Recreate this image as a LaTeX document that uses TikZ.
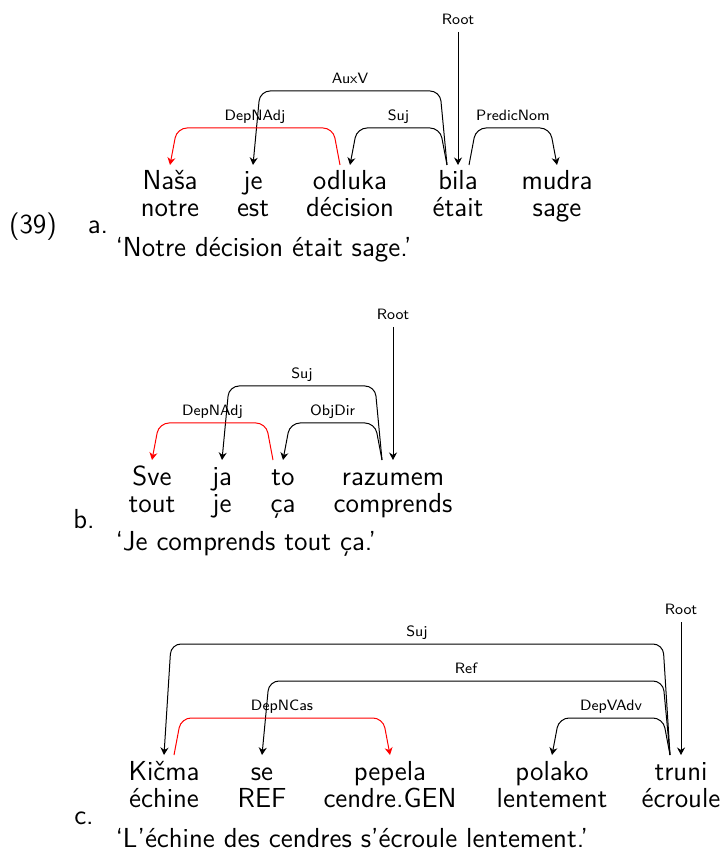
\documentclass[tikz,border=0pt]{standalone}
\usetikzlibrary{calc,positioning,arrows.meta}
\begin{document}
\begin{tikzpicture}[x=0.4pt,y=-0.4pt,
  word/.style={font=\sffamily\fontsize{11}{13}\selectfont,anchor=base,inner sep=0pt},
  deplabel/.style={font=\sffamily\fontsize{6}{7}\selectfont,text=black,inner sep=1.4pt,text height=4.5pt,text depth=1.3pt},
  dep/.style={-{Stealth[length=3pt,width=3.2pt]},rounded corners=4pt}]
\useasboundingbox (0,0) rectangle (723,850);
% (39) a.
\node[word] (exnum) at (33,234) {(39)};
\node[word] (la) at (98,234) {a.};
\node[word] (wa1) at (170,190) {Naša};
\node[word] (wa2) at (253,190) {je};
\node[word] (wa3) at (350,190) {odluka};
\node[word] (wa4) at (458,190) {bila};
\node[word] (wa5) at (557,190) {mudra};
\node[word] (ga1) at (170,217) {notre};
\node[word] (ga2) at (253,217) {est};
\node[word] (ga3) at (350,217) {décision};
\node[word] (ga4) at (458,217) {était};
\node[word] (ga5) at (557,217) {sage};
\node[word,anchor=base west] (ta) at (115,257) {‘Notre décision était sage.’};
\node[deplabel,above] (roota) at ($(wa4.base)+(0,-158)$) {Root};
\draw[dep,rounded corners=0pt] (roota.south) -- ($(wa4.base)+(0,-25)$);
\draw[dep] ($(wa4.base)+(-11,-25)$) -- ++(-7,-74) -- node[deplabel,above]{AuxV} ($(wa2.base)+(7,-99)$) -- ($(wa2.base)+(0,-25)$);
\draw[dep] ($(wa4.base)+(-11,-25)$) -- ++(-7,-37) -- node[deplabel,above]{Suj} ($(wa3.base)+(7,-62)$) -- ($(wa3.base)+(0,-25)$);
\draw[dep] ($(wa4.base)+(11,-25)$) -- ++(7,-37) -- node[deplabel,above]{PredicNom} ($(wa5.base)+(-7,-62)$) -- ($(wa5.base)+(0,-25)$);
\draw[dep,red] ($(wa3.base)+(-10,-25)$) -- ++(-7,-37) -- node[deplabel,above]{DepNAdj} ($(wa1.base)+(7,-62)$) -- ($(wa1.base)+(0,-25)$);
% b.
\node[word] (lb) at (84,528) {b.};
\node[word] (wb1) at (152,485) {Sve};
\node[word] (wb2) at (222,485) {ja};
\node[word] (wb3) at (283,485) {to};
\node[word] (wb4) at (393,485) {razumem};
\node[word] (gb1) at (152,512) {tout};
\node[word] (gb2) at (222,512) {je};
\node[word] (gb3) at (283,512) {ça};
\node[word] (gb4) at (393,512) {comprends};
\node[word,anchor=base west] (tb) at (115,550) {‘Je comprends tout ça.’};
\node[deplabel,above] (rootb) at ($(wb4.base)+(0,-158)$) {Root};
\draw[dep,rounded corners=0pt] (rootb.south) -- ($(wb4.base)+(0,-25)$);
\draw[dep] ($(wb4.base)+(-11,-25)$) -- ++(-7,-74) -- node[deplabel,above]{Suj} ($(wb2.base)+(7,-99)$) -- ($(wb2.base)+(0,-25)$);
\draw[dep] ($(wb4.base)+(-11,-25)$) -- ++(-7,-37) -- node[deplabel,above]{ObjDir} ($(wb3.base)+(7,-62)$) -- ($(wb3.base)+(0,-25)$);
\draw[dep,red] ($(wb3.base)+(-10,-25)$) -- ++(-7,-37) -- node[deplabel,above]{DepNAdj} ($(wb1.base)+(7,-62)$) -- ($(wb1.base)+(0,-25)$);
% c.
\node[word] (lc) at (84,824) {c.};
\node[word] (wc1) at (164,780) {Kičma};
\node[word] (wc2) at (262,780) {se};
\node[word] (wc3) at (390,780) {pepela};
\node[word] (wc4) at (552,780) {polako};
\node[word] (wc5) at (681,780) {truni};
\node[word] (gc1) at (164,807) {échine};
\node[word] (gc2) at (262,807) {REF};
\node[word] (gc3) at (390,807) {cendre.GEN};
\node[word] (gc4) at (552,807) {lentement};
\node[word] (gc5) at (681,807) {écroule};
\node[word,anchor=base west] (tc) at (115,847) {‘L’échine des cendres s’écroule lentement.’};
\node[deplabel,above] (rootc) at ($(wc5.base)+(0,-158)$) {Root};
\draw[dep,rounded corners=0pt] (rootc.south) -- ($(wc5.base)+(0,-25)$);
\draw[dep] ($(wc5.base)+(-11,-25)$) -- ++(-7,-111) -- node[deplabel,above]{Suj} ($(wc1.base)+(7,-136)$) -- ($(wc1.base)+(0,-25)$);
\draw[dep] ($(wc5.base)+(-11,-25)$) -- ++(-7,-74) -- node[deplabel,above]{Ref} ($(wc2.base)+(7,-99)$) -- ($(wc2.base)+(0,-25)$);
\draw[dep] ($(wc5.base)+(-11,-25)$) -- ++(-7,-37) -- node[deplabel,above]{DepVAdv} ($(wc4.base)+(7,-62)$) -- ($(wc4.base)+(0,-25)$);
\draw[dep,red] ($(wc1.base)+(10,-25)$) -- ++(7,-37) -- node[deplabel,above]{DepNCas} ($(wc3.base)+(-7,-62)$) -- ($(wc3.base)+(0,-25)$);
\end{tikzpicture}
\end{document}
